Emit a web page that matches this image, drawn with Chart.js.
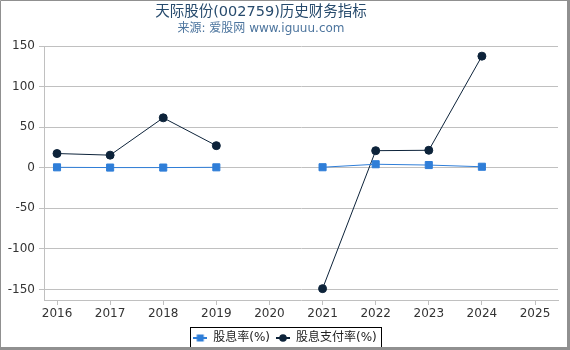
<!DOCTYPE html>
<html>
<head>
<meta charset="utf-8">
<script src="https://cdn.jsdelivr.net/npm/chart.js@4/dist/chart.umd.min.js"></script>
<style>
  html, body { margin: 0; padding: 0; background: #fff; }
  #wrap { width: 570px; height: 350px; }
</style>
</head>
<body>
<div id="wrap"><canvas id="chart" width="570" height="350"></canvas></div>
<script>
// =====================
// DATA
// =====================
const years = [2016, 2017, 2018, 2019, 2020, 2021, 2022, 2023, 2024, 2025];
const dividendYield = [0.5, 0.2, 0.2, 0.5, null, 0.6, 4.3, 3.3, 1.2, null];
const payoutRatio = [17.5, 15.5, 61.5, 27.2, null, -149, 21, 21.5, 137.5, null];
const yTicks = [-150, -100, -50, 0, 50, 100, 150];
const titleText = "天际股份(002759)历史财务指标";
const subtitleText = "来源: 爱股网 www.iguuu.com";

const BLUE = "#2f7ed8";
const DARK = "#0d233a";
const FONT = "'DejaVu Sans', 'Noto Sans CJK SC', sans-serif";

// legend icons: short line with marker
function legendIcon(color, shape) {
  const c = document.createElement("canvas");
  c.width = 14; c.height = 10;
  const ctx = c.getContext("2d");
  ctx.strokeStyle = color;
  ctx.lineWidth = 2;
  ctx.beginPath();
  ctx.moveTo(0, 5); ctx.lineTo(14, 5);
  ctx.stroke();
  ctx.fillStyle = color;
  if (shape === "rect") {
    ctx.fillRect(3.5, 1.5, 7, 7);
  } else {
    ctx.beginPath();
    ctx.arc(7, 5, 3.8, 0, Math.PI * 2);
    ctx.fill();
  }
  return c;
}
const icons = [legendIcon(BLUE, "rect"), legendIcon(DARK, "circle")];

function toPoints(arr) {
  return years.map((y, i) => ({ x: y, y: arr[i] }));
}

// titles, legend border, outer frame
const framePlugin = {
  id: "frame",
  afterLayout(chart) {
    // legend sits centred on the whole canvas, not the padded box
    chart.legend.left += 6;
    chart.legend.right += 6;
  },
  afterDraw(chart) {
    const ctx = chart.ctx;
    ctx.save();
    ctx.textAlign = "center";
    ctx.textBaseline = "middle";
    ctx.fillStyle = "#274b6d";
    ctx.font = "14.5px " + FONT;
    ctx.fillText(titleText, 261, 12);
    ctx.fillStyle = "#4d759e";
    ctx.font = "12px " + FONT;
    ctx.fillText(subtitleText, 261, 29);

    // legend border
    const boxes = chart.legend.legendHitBoxes;
    if (boxes && boxes.length) {
      const first = boxes[0], last = boxes[boxes.length - 1];
      const x0 = first.left - 3, x1 = last.left + last.width + 4;
      const y0 = first.top - 5, y1 = first.top + first.height + 5;
      ctx.strokeStyle = "#000";
      ctx.lineWidth = 1;
      ctx.strokeRect(Math.round(x0) + 0.5, Math.round(y0) + 0.5, Math.round(x1 - x0), Math.round(y1 - y0));
    }
    // outer frame
    ctx.strokeStyle = "#909090";
    ctx.lineWidth = 1;
    ctx.beginPath();
    ctx.moveTo(0.5, 350); ctx.lineTo(0.5, 0.5); ctx.lineTo(570, 0.5);
    ctx.stroke();
    ctx.fillStyle = "#909090";
    ctx.fillRect(567, 0, 3, 350);
    ctx.fillRect(0, 347, 570, 3);
    ctx.restore();
  }
};

new Chart(document.getElementById("chart"), {
  type: "line",
  data: {
    datasets: [{
      label: "股息率(%)",
      data: toPoints(dividendYield),
      borderColor: BLUE,
      backgroundColor: BLUE,
      borderWidth: 1,
      pointStyle: "rect",
      pointRadius: 5,
      pointHoverRadius: 5,
      spanGaps: false
    }, {
      label: "股息支付率(%)",
      data: toPoints(payoutRatio),
      borderColor: DARK,
      backgroundColor: DARK,
      borderWidth: 1,
      pointStyle: "circle",
      pointRadius: 4,
      pointHoverRadius: 4,
      spanGaps: false
    }]
  },
  options: {
    responsive: false,
    animation: false,
    layout: { padding: { left: 0, right: 12, top: 46, bottom: -4 } },
    plugins: {
      title: { display: false },
      subtitle: { display: false },
      legend: {
        position: "bottom",
        labels: {
          color: "#222",
          font: { family: FONT, size: 12 },
          usePointStyle: true,
          pointStyleWidth: 14,
          padding: 6,
          generateLabels(chart) {
            const items = Chart.defaults.plugins.legend.labels.generateLabels(chart);
            items.forEach((it, i) => { it.pointStyle = icons[i]; });
            return items;
          }
        }
      },
      tooltip: { enabled: false }
    },
    scales: {
      x: {
        type: "linear",
        min: 2015.755,
        max: 2025.433,
        afterBuildTicks(scale) {
          scale.ticks = years.map(v => ({ value: v }));
        },
        afterFit(scale) { scale.height = 26; },
        ticks: {
          color: "#333",
          font: { family: FONT, size: 12 },
          maxRotation: 0,
          autoSkip: false,
          padding: 2,
          callback: v => String(v)
        },
        grid: { display: true, drawOnChartArea: false, tickLength: 5, color: "#c0c0c0" },
        border: { color: "#c0c0c0" }
      },
      y: {
        min: -163,
        max: 150,
        afterBuildTicks(scale) {
          scale.ticks = yTicks.map(v => ({ value: v }));
        },
        afterFit(scale) { scale.width = 44; },
        ticks: {
          color: "#333",
          font: { family: FONT, size: 12 },
          padding: 4
        },
        grid: { color: "#c0c0c0", tickLength: 5 },
        border: { color: "#c0c0c0" }
      }
    }
  },
  plugins: [framePlugin]
});
</script>
</body>
</html>
